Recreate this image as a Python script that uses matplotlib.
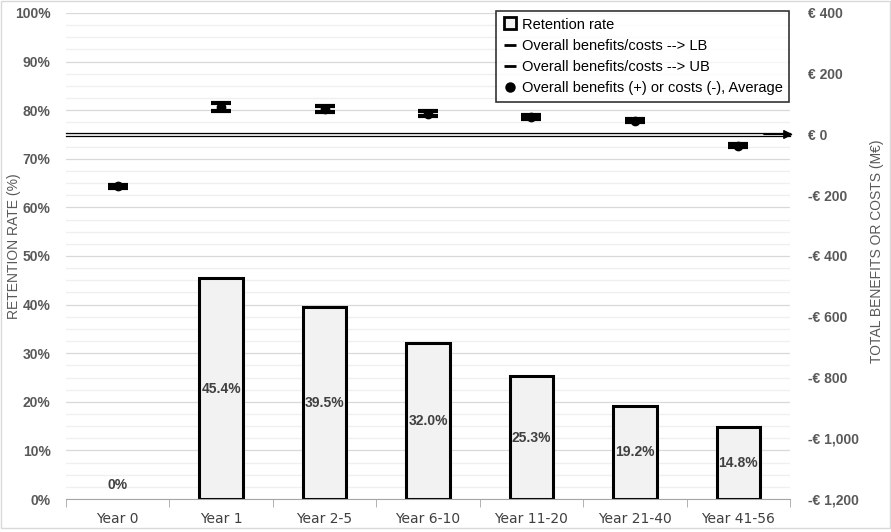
import matplotlib.pyplot as plt
import numpy as np
from matplotlib.lines import Line2D
from matplotlib.patches import Rectangle
from matplotlib.ticker import FuncFormatter, MultipleLocator

plt.rcParams["font.family"] = ["Liberation Sans", "DejaVu Sans"]

categories = ["Year 0", "Year 1", "Year 2-5", "Year 6-10", "Year 11-20", "Year 21-40", "Year 41-56"]
retention = [0.0, 45.4, 39.5, 32.0, 25.3, 19.2, 14.8]
benefit_avg = [-170, 91, 84, 68, 58, 45, -37]
benefit_lb = [-175, 78, 74, 60, 51, 40, -42]
benefit_ub = [-165, 104, 94, 76, 65, 50, -32]

TICK_GREY = "#595959"

fig = plt.figure(figsize=(8.91, 5.32), dpi=100)
ax = fig.add_axes([0.0741, 0.062, 0.8125, 0.9136])
ax2 = ax.twinx()

x = np.arange(len(categories))

# gridlines (left axis)
ax.set_ylim(0, 100)
ax.yaxis.set_major_locator(MultipleLocator(10))
ax.yaxis.set_minor_locator(MultipleLocator(2.5))
ax.grid(which="major", axis="y", color="#d9d9d9", lw=0.9, zorder=0)
ax.grid(which="minor", axis="y", color="#efefef", lw=0.9, zorder=0)
ax.set_axisbelow(True)

bar_lw = [0 if v == 0 else 2.2 for v in retention]
ax.bar(x, retention, width=0.42, color="#f2f2f2", edgecolor="black", linewidth=bar_lw, zorder=2)
for xi, v in zip(x, retention):
    lbl = "0%" if v == 0 else f"{v:.1f}%"
    ypos = 2.9 if v == 0 else v / 2
    ax.text(xi, ypos, lbl, ha="center", va="center", fontsize=10, fontweight="bold",
            color="#404040", zorder=3)

ax.set_xlim(-0.5, len(categories) - 0.5)
ax.set_xticks(x)
ax.set_xticklabels(categories, fontsize=10, color="#404040", family="Liberation Sans Narrow")
ax.set_xticks(np.arange(-0.5, len(categories), 1), minor=True)
ax.tick_params(axis="x", which="major", length=0, pad=9)
ax.tick_params(axis="x", which="minor", length=6, color="#a6a6a6", direction="out")
ax.yaxis.set_major_formatter(FuncFormatter(lambda v, p: f"{v:.0f}%"))
ax.tick_params(axis="y", which="both", length=0, pad=11, labelsize=10, labelcolor=TICK_GREY)
for t in ax.get_yticklabels():
    t.set_fontweight("bold")
ax.set_ylabel("RETENTION RATE (%)", fontsize=10, color=TICK_GREY, va="center")
ax.yaxis.set_label_coords(-0.072, 0.52)

for sp in ["top", "left", "right"]:
    ax.spines[sp].set_visible(False)
    ax2.spines[sp].set_visible(False)
ax.spines["bottom"].set_color("#a6a6a6")
ax2.spines["bottom"].set_visible(False)

# right axis: benefits / costs
ax2.set_ylim(-1200, 400)
ax2.set_yticks(np.arange(-1200, 401, 200))


def euro(v, p):
    if v == 0:
        return "€ 0"
    sign = "-" if v < 0 else ""
    return f"{sign}€ {abs(v):,.0f}"


ax2.yaxis.set_major_formatter(FuncFormatter(euro))
ax2.tick_params(axis="y", length=0, pad=13, labelsize=10, labelcolor=TICK_GREY)
for t in ax2.get_yticklabels():
    t.set_fontweight("bold")
ax2.set_ylabel("TOTAL BENEFITS OR COSTS (M€)", fontsize=10, color=TICK_GREY, va="center")
ax2.yaxis.set_label_coords(1.12, 0.51)

# zero arrow (double line)
trans = ax2.get_yaxis_transform()
ax2.plot([0, 1.0], [5, 5], color="black", lw=0.9, transform=trans, zorder=4, clip_on=False)
ax2.plot([0, 1.0], [-4, -4], color="black", lw=0.9, transform=trans, zorder=4, clip_on=False)
ax2.annotate("", xy=(1.008, 0), xytext=(0.96, 0), xycoords=trans, textcoords=trans,
             arrowprops=dict(arrowstyle="-|>", color="black", lw=0.9, mutation_scale=14),
             zorder=5, annotation_clip=False)

# error bars and averages
yerr = [np.array(benefit_avg) - np.array(benefit_lb), np.array(benefit_ub) - np.array(benefit_avg)]
ax2.errorbar(x, benefit_avg, yerr=yerr, fmt="o", color="black", ms=6, capsize=7,
             capthick=3, elinewidth=5, zorder=6)

# legend
handles = [
    Line2D([], [], marker="s", ls="none", mfc="#f2f2f2", mec="black", mew=2, ms=9),
    Line2D([], [], marker="_", ls="none", color="black", mew=2, ms=9),
    Line2D([], [], marker="_", ls="none", color="black", mew=2, ms=9),
    Line2D([], [], marker="o", ls="none", color="black", ms=6.5),
]
labels = ["Retention rate", "Overall benefits/costs --> LB", "Overall benefits/costs --> UB",
          "Overall benefits (+) or costs (-), Average"]
leg = ax2.legend(handles, labels, loc="upper right", bbox_to_anchor=(1.003, 1.01), fontsize=10.5,
                 frameon=True, fancybox=False, edgecolor="black", handlelength=1.0,
                 handletextpad=0.3, labelspacing=0.5, borderpad=0.45, borderaxespad=0.2)
leg.get_frame().set_linewidth(1.2)
leg.set_zorder(10)

fig.patches.append(Rectangle((0.001, 0.008), 0.998, 0.99, transform=fig.transFigure,
                             fill=False, edgecolor="#d9d9d9", lw=1))

fig.savefig("out.png", dpi=100)
